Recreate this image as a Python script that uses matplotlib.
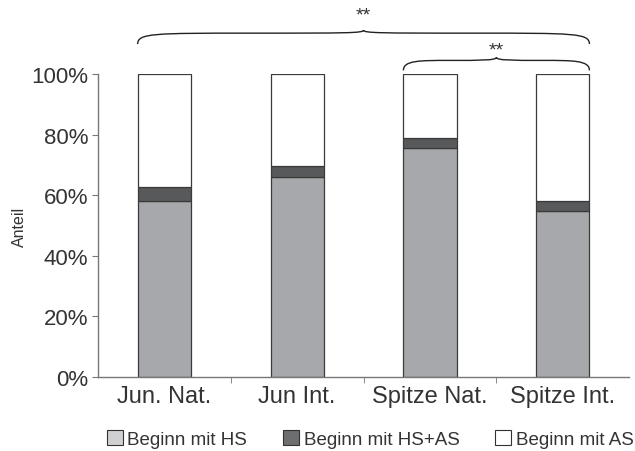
import numpy as np
import matplotlib
matplotlib.use("Agg")
import matplotlib.pyplot as plt
from matplotlib.path import Path
from matplotlib.patches import PathPatch, Patch

plt.rcParams['font.family'] = ['Liberation Sans', 'DejaVu Sans']

groups = ["Jun. Nat.", "Jun Int.", "Spitze Nat.", "Spitze Int."]
hs = [58.0, 66.0, 75.5, 54.7]
hs_as = [4.7, 3.7, 3.4, 3.3]
as_only = [100 - a - b for a, b in zip(hs, hs_as)]
labels = ["Beginn mit HS", "Beginn mit HS+AS", "Beginn mit AS"]
colors = ["#a7a8ab", "#58595b", "#ffffff"]
legend_colors = ["#cfd0d2", "#6d6e70", "#ffffff"]
yticks = [0, 20, 40, 60, 80, 100]
ytick_labels = ["0%", "20%", "40%", "60%", "80%", "100%"]
# significance braces: (first group, last group, label)
braces = [(0, 3, "**"), (2, 3, "**")]

txt = "#333333"
fig = plt.figure(figsize=(6.35, 4.52), dpi=100)
ax = fig.add_axes([0.154, 0.164, 0.837, 0.670])

x = np.arange(len(groups))
w = 0.4
bottom = np.zeros(len(groups))
for vals, c in zip([hs, hs_as, as_only], colors):
    ax.bar(x, vals, w, bottom=bottom, color=c, edgecolor="#3a3a3a", linewidth=0.9)
    bottom += np.array(vals)

ax.set_xlim(-0.5, 3.5)
ax.set_ylim(0, 100)
ax.set_yticks(yticks)
ax.set_yticklabels(ytick_labels, fontsize=16, color=txt)
ax.set_xticks(x)
ax.set_xticklabels(groups, fontsize=17, color=txt)
ax.set_xticks([0.5, 1.5, 2.5], minor=True)
ax.tick_params(axis="x", which="major", length=0, pad=6)
ax.tick_params(axis="x", which="minor", length=4, color="#777777")
ax.tick_params(axis="y", length=4, color="#777777", pad=3)
ax.set_ylabel("Anteil", fontsize=11.5, color=txt, labelpad=3)
for s in ["top", "right"]:
    ax.spines[s].set_visible(False)
for s in ["left", "bottom"]:
    ax.spines[s].set_color("#777777")
    ax.spines[s].set_linewidth(1.0)


def brace(ax, x0, x1, y0, y1, ytip):
    xm = (x0 + x1) / 2
    q0 = (x0 + xm) / 2
    q1 = (xm + x1) / 2
    d = 0.12
    verts = [(x0, y0), (x0, y1), (x0 + d, y1), (q0, y1),
             (xm - d, y1), (xm, y1), (xm, ytip),
             (xm, y1), (xm + d, y1), (q1, y1),
             (x1 - d, y1), (x1, y1), (x1, y0)]
    codes = [Path.MOVETO] + [Path.CURVE4] * 12
    p = PathPatch(Path(verts, codes), fill=False, lw=1.0, ec="#222222",
                  transform=ax.get_xaxis_transform(), clip_on=False)
    ax.add_patch(p)
    return xm


spans = [(1.099, 1.135, 1.145, 1.195), (1.012, 1.045, 1.055, 1.078)]
for (g0, g1, lab), (y0, y1, yt, ytext) in zip(braces, spans):
    xa = x[g0] - w / 2
    xb = x[g1] + w / 2
    xm = brace(ax, xa, xb, y0, y1, yt)
    ax.text(xm, ytext, lab, transform=ax.get_xaxis_transform(), ha="center",
            va="center", fontsize=14, color=txt)

handles = [Patch(facecolor=c, edgecolor="#333333", linewidth=0.8) for c in legend_colors]
fig.legend(handles, labels, loc="center", bbox_to_anchor=(0.583, 0.027), ncol=3,
           frameon=False, fontsize=13.5, handlelength=0.85, handleheight=0.85,
           handletextpad=0.25, columnspacing=1.9, labelcolor=txt)

fig.savefig("out.png", dpi=100)
